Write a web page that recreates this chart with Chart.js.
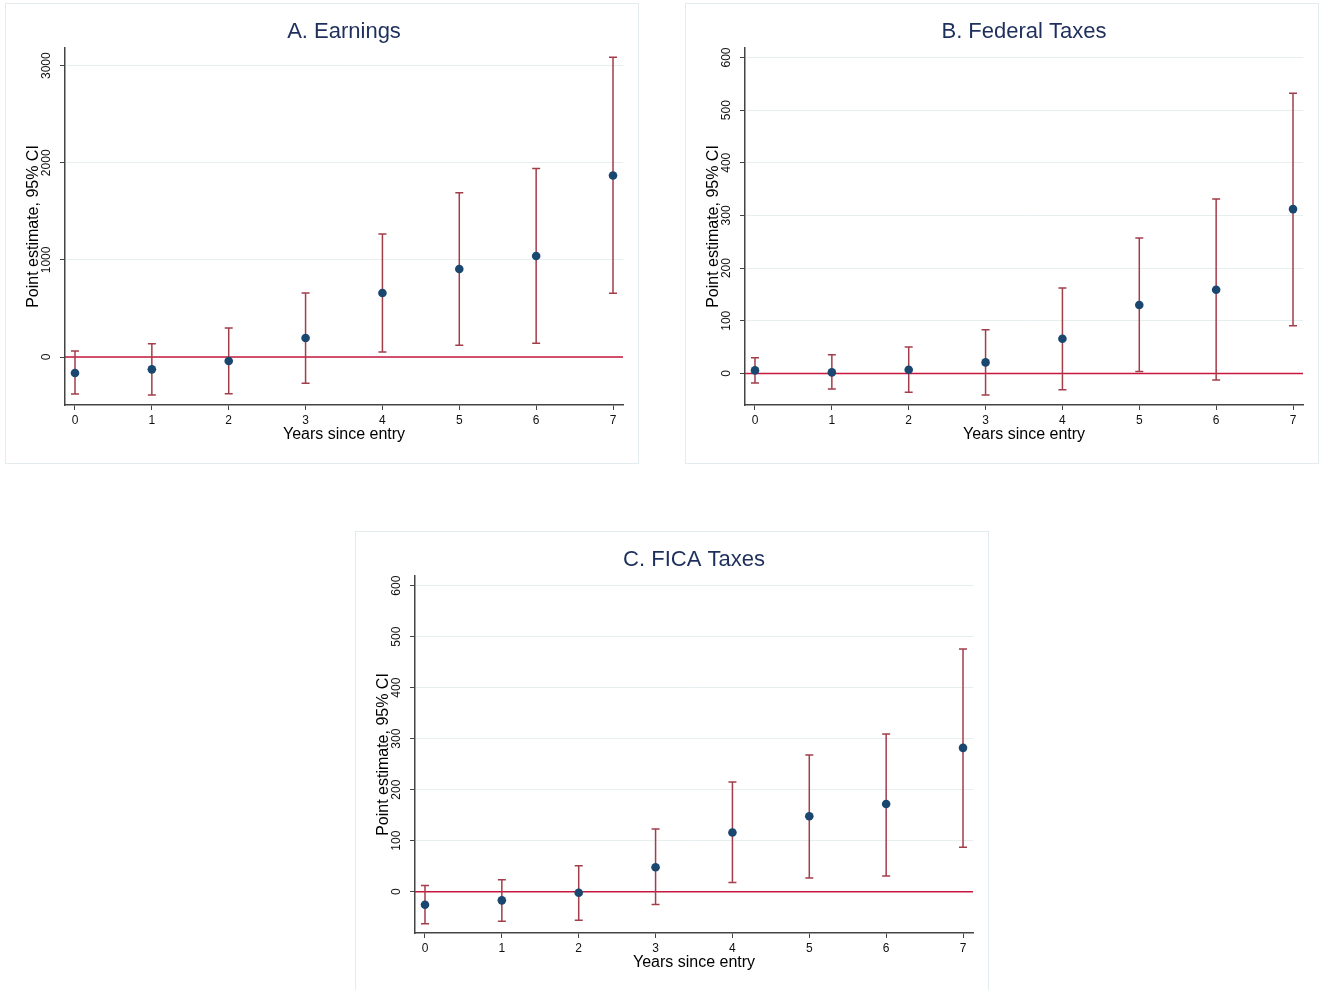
<!DOCTYPE html>
<html lang="en">
<head>
  <meta charset="UTF-8" />
  <title>Point estimates by years since entry</title>
  <script src="https://cdn.jsdelivr.net/npm/chart.js"></script>
  <style>
    body {
      margin: 0;
      width: 1320px;
      height: 990px;
      overflow: hidden;
      position: relative;
      background: #fff;
      font-family: 'Liberation Sans', Arial, sans-serif;
    }
    .panel {
      position: absolute;
      width: 634px;
      height: 461px;
      border: 1px solid #e3ebee;
      box-sizing: border-box;
      background: #fff;
    }
    .panel canvas { display: block; }
  </style>
</head>
<body>
<div class="panel" style="left:5px;top:3px"><canvas id="chartA" width="632" height="459"></canvas></div>
<div class="panel" style="left:685px;top:3px"><canvas id="chartB" width="632" height="459"></canvas></div>
<div class="panel" style="left:355px;top:531px;height:470px"><canvas id="chartC" width="632" height="459"></canvas></div>

<script>
  // years since entry (x axis)
  const years = [0, 1, 2, 3, 4, 5, 6, 7];

  // A. Earnings
  const earnEst = [-165, -127, -41, 196, 660, 907, 1041, 1869];
  const earnLo  = [-381, -392, -378, -271, 52, 120, 141, 657];
  const earnHi  = [62, 137, 299, 660, 1268, 1691, 1941, 3086];
  const earnTicks = [0, 1000, 2000, 3000];

  // B. Federal Taxes
  const fedEst = [5.7, 1.9, 6.9, 20.9, 65.8, 130, 159, 312];
  const fedLo  = [-18.4, -29.8, -35.6, -41, -31, 3.8, -12.7, 90.5];
  const fedHi  = [29.7, 35.4, 50, 83, 162, 257, 331, 532];
  const fedTicks = [0, 100, 200, 300, 400, 500, 600];

  // C. FICA Taxes
  const ficaEst = [-25.6, -17, -2, 48, 116, 148, 172, 282];
  const ficaLo  = [-63, -58, -56, -25, 18, 27, 31, 87];
  const ficaHi  = [12, 23.5, 51, 123, 215, 268, 309, 476];
  const ficaTicks = [0, 100, 200, 300, 400, 500, 600];

  const FONT = "'Liberation Sans', Arial, sans-serif";

  function makeChart(id, title, est, lo, hi, yMin, yMax, yTicks) {
    const ciBars = {
      id: 'ciBars',
      beforeDatasetsDraw(chart) {
        const { ctx, chartArea, scales: { x, y } } = chart;
        ctx.save();
        // reference line at zero
        const y0 = y.getPixelForValue(0);
        ctx.strokeStyle = '#c8173c';
        ctx.lineWidth = 1.5;
        ctx.beginPath();
        ctx.moveTo(chartArea.left, y0);
        ctx.lineTo(chartArea.right, y0);
        ctx.stroke();
        // confidence intervals with caps
        ctx.strokeStyle = '#a23e4a';
        ctx.lineWidth = 1.5;
        years.forEach((yr, i) => {
          const px = x.getPixelForValue(yr);
          const a = y.getPixelForValue(lo[i]);
          const b = y.getPixelForValue(hi[i]);
          ctx.beginPath();
          ctx.moveTo(px, a); ctx.lineTo(px, b);
          ctx.moveTo(px - 4, a); ctx.lineTo(px + 4, a);
          ctx.moveTo(px - 4, b); ctx.lineTo(px + 4, b);
          ctx.stroke();
        });
        ctx.restore();
      },
      afterDraw(chart) {
        // vertical y tick labels, like Stata
        const { ctx, scales: { y } } = chart;
        ctx.save();
        ctx.fillStyle = '#111';
        ctx.font = '12px ' + FONT;
        ctx.textAlign = 'center';
        ctx.textBaseline = 'middle';
        y.ticks.forEach(t => {
          const py = y.getPixelForValue(t.value);
          ctx.save();
          ctx.translate(y.right - 18, py);
          ctx.rotate(-Math.PI / 2);
          ctx.fillText(String(t.value), 0, 0);
          ctx.restore();
        });
        ctx.restore();
      }
    };

    return new Chart(document.getElementById(id), {
      type: 'scatter',
      data: {
        datasets: [{
          data: years.map((yr, i) => ({ x: yr, y: est[i] })),
          backgroundColor: '#1a476f',
          borderWidth: 0,
          pointRadius: 4.3,
          pointHoverRadius: 4.3
        }]
      },
      options: {
        responsive: false,
        animation: false,
        devicePixelRatio: 1,
        layout: { padding: { left: 0, right: 15, top: 0, bottom: 0 } },
        plugins: {
          legend: { display: false },
          tooltip: { enabled: false },
          title: {
            display: true,
            fullSize: false,
            text: title,
            color: '#1e2f5c',
            font: { family: FONT, size: 22, weight: 'normal' },
            padding: { top: 14.6, bottom: 3 }
          }
        },
        scales: {
          x: {
            type: 'linear',
            min: -0.13,
            max: 7.13,
            afterBuildTicks(scale) { scale.ticks = years.map(v => ({ value: v })); },
            afterFit(scale) { scale.height = 58; },
            border: { display: true, color: '#444', width: 1.5 },
            grid: { display: true, drawOnChartArea: false, drawTicks: true, tickLength: 5, tickColor: '#444' },
            ticks: {
              padding: 3,
              color: '#111',
              font: { family: FONT, size: 12 },
              maxRotation: 0
            },
            title: {
              display: true,
              text: 'Years since entry',
              color: '#000',
              font: { family: FONT, size: 16 },
              padding: { top: 0, bottom: 18.4 }
            }
          },
          y: {
            min: yMin,
            max: yMax,
            afterBuildTicks(scale) { scale.ticks = yTicks.map(v => ({ value: v })); },
            afterFit(scale) { scale.width = 59; },
            border: { display: true, color: '#444', width: 1.5 },
            grid: { color: '#e6eef0', lineWidth: 1, drawTicks: true, tickLength: 5, tickColor: '#444' },
            ticks: { display: false },
            title: {
              display: true,
              text: 'Point estimate, 95% CI',
              color: '#000',
              font: { family: FONT, size: 16 },
              padding: { top: 17.5, bottom: 0 }
            }
          }
        }
      },
      plugins: [ciBars]
    });
  }

  makeChart('chartA', 'A. Earnings', earnEst, earnLo, earnHi, -494, 3182, earnTicks);
  makeChart('chartB', 'B. Federal Taxes', fedEst, fedLo, fedHi, -60, 618, fedTicks);
  makeChart('chartC', 'C. FICA Taxes', ficaEst, ficaLo, ficaHi, -81, 619, ficaTicks);
</script>
</body>
</html>
